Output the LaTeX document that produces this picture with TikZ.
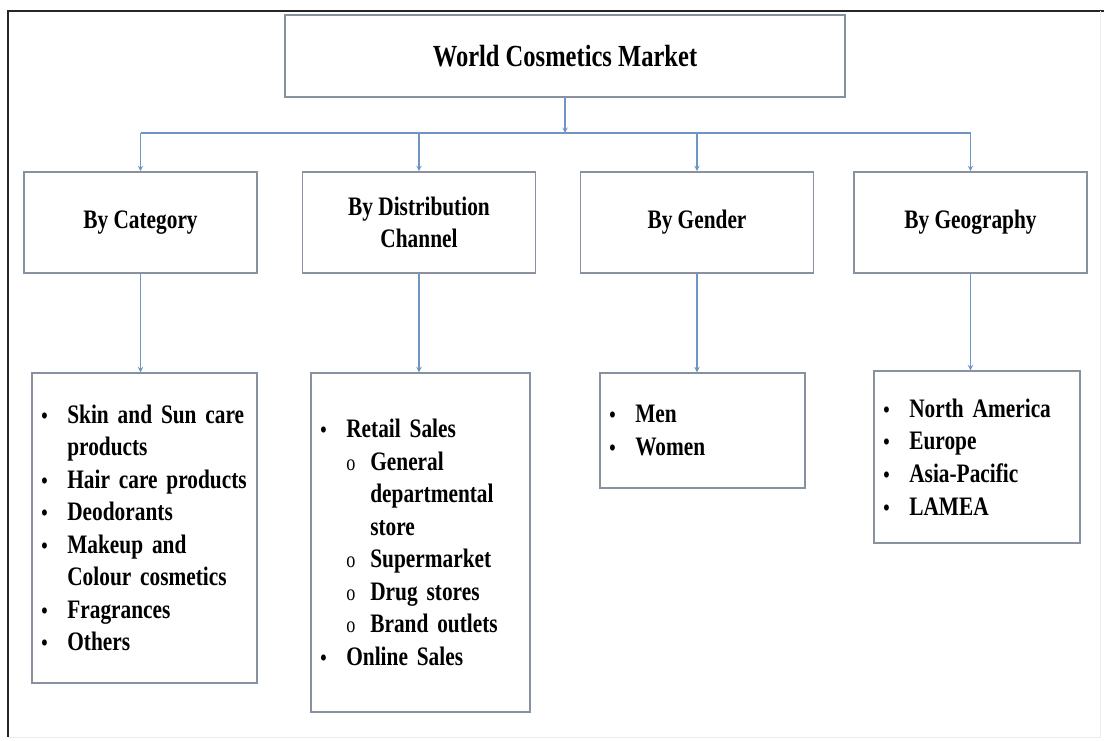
\documentclass[tikz,border=0pt]{standalone}
\usepackage{fontspec}
\setmainfont{Liberation Serif}[FakeStretch=0.8]

\definecolor{linkblue}{RGB}{110,150,196}
\definecolor{boxgray}{RGB}{135,145,160}

% list lines
\newcommand{\bul}[1]{\makebox[19.5pt][l]{\fontsize{17}{17}\selectfont\textbullet}#1}
\newcommand{\bulcont}[1]{\hspace*{19.5pt}#1}
\newcommand{\sbul}[1]{\hspace*{19.5pt}\makebox[18pt][l]{\mdseries\fontsize{17}{17}\selectfont o}#1}
\newcommand{\sbulcont}[1]{\hspace*{37.5pt}#1}

\begin{document}
\begin{tikzpicture}[x=0.75pt, y=-0.75pt, >=stealth,
		box/.style={draw=boxgray, line width=1.1pt, fill=white, inner sep=0pt},
		segment/.style={box, minimum width=175pt, minimum height=76pt, align=center,
			font=\bfseries\fontsize{20}{24}\selectfont},
		listbox/.style={box, inner xsep=7pt, align=left,
			font=\bfseries\fontsize{20}{24.4}\selectfont},
		link/.style={draw=linkblue, line width=0.8pt}]

		\useasboundingbox (0,0) rectangle (1104,740);

		% frame
		\draw [black!85, line width=1.2pt] (1104,11) -- (8,11) -- (8,737);
		\draw [black!8] (8,737) -- (1100,737) -- (1100,11);

		% top box
		\node [box, minimum width=420pt, minimum height=61.5pt,
			font=\bfseries\fontsize{23}{28}\selectfont] (market) at (565,56) {World Cosmetics Market};

		% segment boxes
		\foreach \x/\l [count=\i] in {140.5/By Category, 419/By Distribution\\Channel, 697/By Gender, 970.5/By Geography}
			\node [segment] (segment-\i) at (\x,222.5) {\l};

		% lists
		\node [listbox, minimum width=168.75pt, minimum height=232.5pt, text width=154.75pt] (list-1) at (144.5,528) {
			\bul{Skin and Sun care}\\ \bulcont{products}\\ \bul{Hair care products}\\ \bul{Deodorants}\\
			\bul{Makeup and}\\ \bulcont{Colour cosmetics}\\ \bul{Fragrances}\\ \bul{Others}};

		\node [listbox, minimum width=164.25pt, minimum height=254.25pt, text width=150.25pt] (list-2) at (420.5,542.5) {
			\bul{Retail Sales}\\ \sbul{General}\\ \sbulcont{departmental}\\ \sbulcont{store}\\
			\sbul{Supermarket}\\ \sbul{Drug stores}\\ \sbul{Brand outlets}\\ \bul{Online Sales}};

		\node [listbox, minimum width=153.75pt, minimum height=86.25pt, text width=139.75pt] (list-3) at (702.5,430.5) {
			\bul{Men}\\ \bul{Women}};

		\node [listbox, minimum width=154.5pt, minimum height=129pt, text width=140.5pt] (list-4) at (977,457) {
			\bul{North America}\\ \bul{Europe}\\ \bul{Asia-Pacific}\\ \bul{LAMEA}};

		% lines from market to segments
		\coordinate (bus) at (565,133);
		\draw [link, ->] (market) -- (bus);
		\draw [link] (segment-1 |- bus) -- (segment-4 |- bus);
		\foreach \i in {1,...,4}
			\draw [link, ->] (segment-\i |- bus) -- (segment-\i);

		% lines from segments to lists
		\foreach \i in {1,...,4}
			\draw [link, ->] (segment-\i) -- (segment-\i |- list-\i.north);

\end{tikzpicture}
\end{document}
